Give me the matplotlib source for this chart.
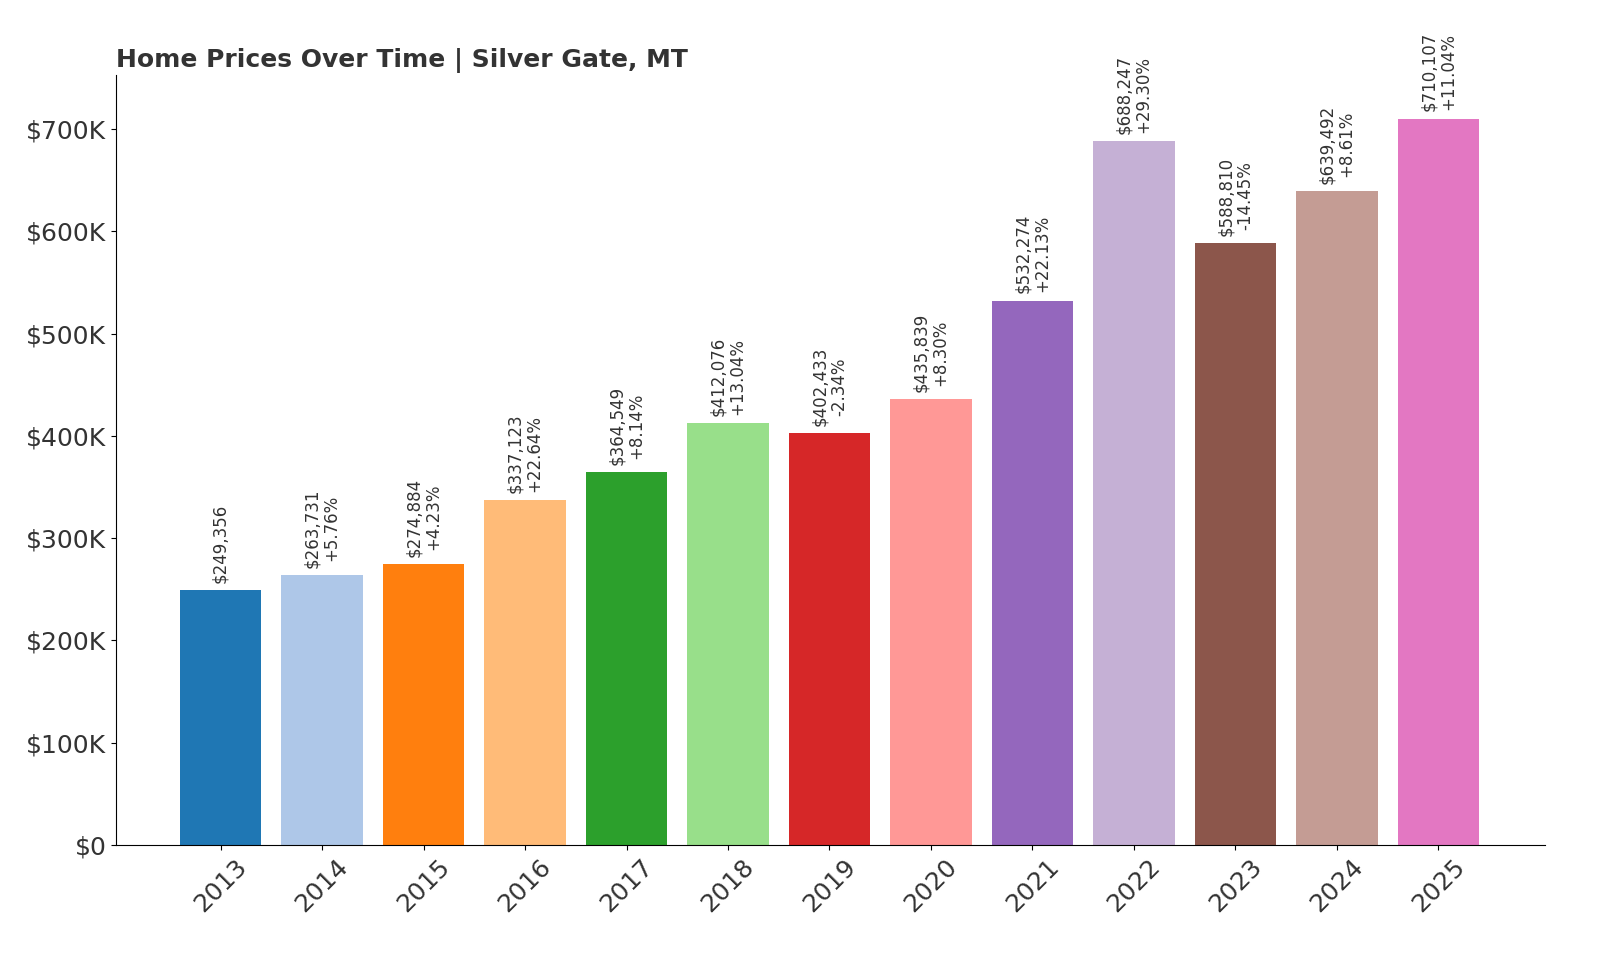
import matplotlib.pyplot as plt
from matplotlib.ticker import FuncFormatter

years = ["2013", "2014", "2015", "2016", "2017", "2018", "2019",
         "2020", "2021", "2022", "2023", "2024", "2025"]
prices = [249356, 263731, 274884, 337123, 364549, 412076, 402433,
          435839, 532274, 688247, 588810, 639492, 710107]
changes = [None, "+5.76%", "+4.23%", "+22.64%", "+8.14%", "+13.04%", "-2.34%",
           "+8.30%", "+22.13%", "+29.30%", "-14.45%", "+8.61%", "+11.04%"]

colors = plt.get_cmap("tab20").colors[:len(years)]

fig = plt.figure(figsize=(16, 9.6), dpi=100)
ax = fig.add_axes([116 / 1600, 1 - 845 / 960, (1545 - 116) / 1600, (845 - 75) / 960])

x = range(len(years))
ax.bar(x, prices, width=0.8, color=colors)

for i, (p, c) in enumerate(zip(prices, changes)):
    label = f"${p:,}" if c is None else f"${p:,}\n{c}"
    ax.text(i, p + 7000, label, rotation=90, ha="center", va="bottom",
            fontsize=12, color="#333333", linespacing=1.1)

ax.set_xlim(-1.03, 13.05)
ax.set_ylim(0, max(prices) * 1.06)
ax.set_xticks(list(x))
ax.set_xticklabels(years, rotation=45, fontsize=18, color="#333333")
ax.set_yticks(range(0, 700001, 100000))
ax.yaxis.set_major_formatter(FuncFormatter(lambda v, _: "$0" if v == 0 else f"${v / 1000:.0f}K"))
ax.tick_params(axis="y", labelsize=18, labelcolor="#333333")
ax.spines["top"].set_visible(False)
ax.spines["right"].set_visible(False)
ax.set_title("Home Prices Over Time | Silver Gate, MT", loc="left",
             fontsize=18, fontweight="bold", color="#333333")

fig.savefig("out.png", dpi=100)
